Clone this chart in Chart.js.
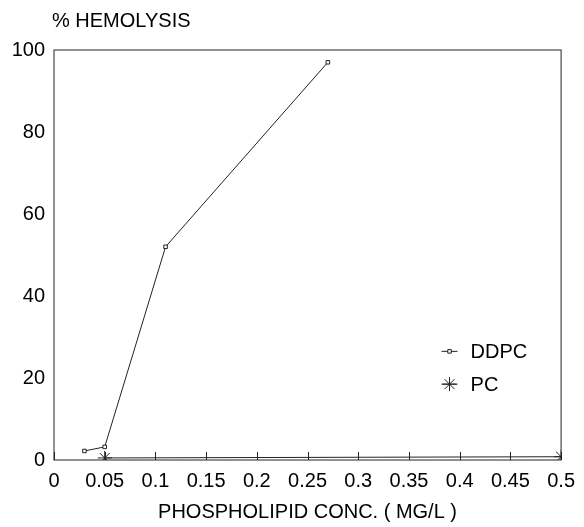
<!DOCTYPE html>
<html>
<head>
<meta charset="utf-8">
<script src="https://cdn.jsdelivr.net/npm/chart.js@4.4.1/dist/chart.umd.min.js"></script>
<style>
  html, body { margin: 0; padding: 0; background: #fff; }
  #wrap { width: 584px; height: 527px; }
</style>
</head>
<body>
<div id="wrap"><canvas id="chart"></canvas></div>
<script>
const ddpcConc = [0.03, 0.05, 0.11, 0.27]
const ddpcHemolysis = [2.2, 3.2, 52, 97]
const pcConc = [0.05, 0.5]
const pcHemolysis = [0.5, 0.8]
const seriesNames = ['DDPC', 'PC']
const yTitle = '% HEMOLYSIS'
const xTitle = 'PHOSPHOLIPID CONC. ( MG/L )'

const FONT = "'Liberation Sans', Arial, sans-serif"
const FONT_SIZE = 20
const INK = '#222'

const toPoints = (xs, ys) => xs.map((x, i) => ({ x: x, y: ys[i] }))

// frame, inward x ticks, y title and the legend inside the plot
const extras = {
  id: 'extras',
  afterDraw(chart) {
    const c = chart.ctx
    const a = chart.chartArea
    const xs = chart.scales.x
    c.save()
    c.strokeStyle = INK
    c.lineWidth = 1
    c.strokeRect(a.left, a.top, a.right - a.left, a.bottom - a.top)
    xs.ticks.forEach(t => {
      const px = Math.round(xs.getPixelForValue(t.value)) + 0.5
      c.beginPath()
      c.moveTo(px, a.bottom)
      c.lineTo(px, a.bottom - 8)
      c.stroke()
    })
    c.fillStyle = '#000'
    c.font = FONT_SIZE + 'px ' + FONT
    c.textAlign = 'left'
    c.textBaseline = 'alphabetic'
    c.fillText(yTitle, a.left - 2, a.top - 23)

    // legend
    const lx = a.left + (a.right - a.left) * 0.78
    const rows = [a.top + (a.bottom - a.top) * 0.735, a.top + (a.bottom - a.top) * 0.815]
    chart.data.datasets.forEach((ds, i) => {
      const y = rows[i]
      c.strokeStyle = INK
      c.beginPath()
      c.moveTo(lx - 8, y)
      c.lineTo(lx + 8, y)
      c.stroke()
      c.fillStyle = '#fff'
      Chart.helpers.drawPoint(c, {
        pointStyle: ds.pointStyle,
        radius: ds.pointRadius,
        borderWidth: 1
      }, lx, y)
      c.fillStyle = '#000'
      c.textBaseline = 'middle'
      c.fillText(seriesNames[i], lx + 21, y + 1)
    })
    c.restore()
  }
}

new Chart(document.getElementById('chart'), {
  type: 'scatter',
  data: {
    datasets: [{
      label: seriesNames[0],
      data: toPoints(ddpcConc, ddpcHemolysis),
      showLine: true,
      borderColor: INK,
      borderWidth: 1,
      pointStyle: 'rect',
      pointRadius: 2.5,
      pointBackgroundColor: '#fff',
      pointBorderColor: INK,
      pointBorderWidth: 1
    }, {
      label: seriesNames[1],
      data: toPoints(pcConc, pcHemolysis),
      showLine: true,
      borderColor: INK,
      borderWidth: 1,
      pointStyle: 'star',
      pointRadius: 7,
      pointBorderColor: INK,
      pointBorderWidth: 1
    }]
  },
  options: {
    responsive: true,
    maintainAspectRatio: false,
    animation: false,
    layout: { padding: { left: 0, right: 15, top: 50, bottom: 0 } },
    plugins: {
      legend: { display: false },
      tooltip: { enabled: false }
    },
    scales: {
      x: {
        type: 'linear',
        min: 0,
        max: 0.5,
        afterFit: s => { s.height = 67 },
        ticks: {
          stepSize: 0.05,
          padding: 9,
          color: '#000',
          font: { family: FONT, size: FONT_SIZE },
          maxRotation: 0,
          callback: v => String(+v.toFixed(2))
        },
        grid: { display: false, drawTicks: false },
        border: { display: false },
        title: {
          display: true,
          text: xTitle,
          color: '#000',
          font: { family: FONT, size: FONT_SIZE },
          padding: { top: 0, bottom: 3 }
        }
      },
      y: {
        min: 0,
        max: 100,
        afterFit: s => { s.width = 54 },
        ticks: {
          stepSize: 20,
          padding: 9,
          color: '#000',
          font: { family: FONT, size: FONT_SIZE }
        },
        grid: { display: false, drawTicks: false },
        border: { display: false }
      }
    }
  },
  plugins: [extras]
})
</script>
</body>
</html>
